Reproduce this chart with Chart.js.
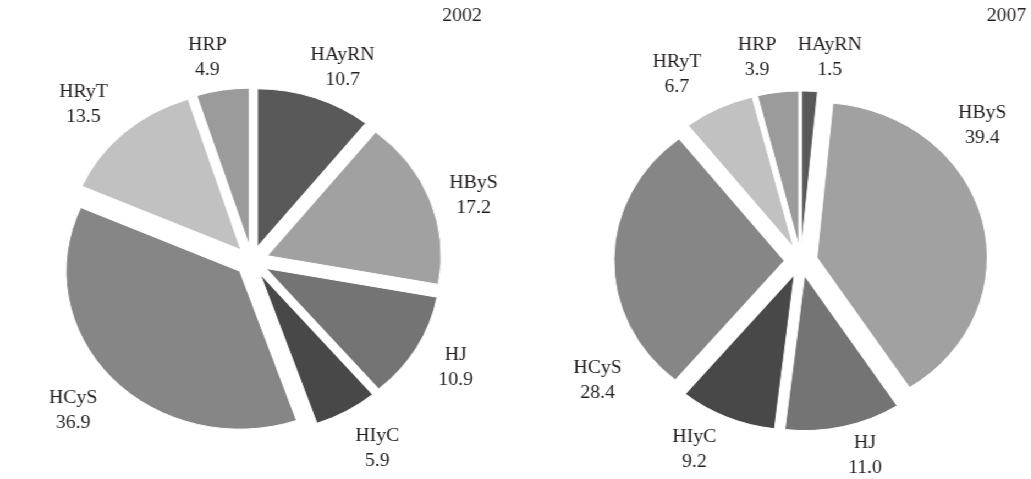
<!DOCTYPE html>
<html>
<head>
<meta charset="utf-8">
<script src="https://cdn.jsdelivr.net/npm/chart.js@4/dist/chart.umd.min.js"></script>
<style>
  html, body { margin: 0; padding: 0; background: #fff; overflow: hidden; }
  /* the source picture is stretched sideways, so the whole stage is too */
  #stage { position: relative; width: 937px; height: 479px; transform: scaleX(1.1); transform-origin: 0 0; }
  #stage canvas { position: absolute; top: 0; }
</style>
</head>
<body>
<div id="stage">
  <canvas id="pie2002" width="458" height="479" style="left:0px"></canvas>
  <canvas id="pie2007" width="460" height="479" style="left:498px"></canvas>
</div>
<script>
const categories = ['HAyRN', 'HByS', 'HJ', 'HIyC', 'HCyS', 'HRyT', 'HRP'];
const values2002 = [10.7, 17.2, 10.9, 5.9, 36.9, 13.5, 4.9];
const values2007 = [1.5, 39.4, 11.0, 9.2, 28.4, 6.7, 3.9];
const grays = ['#595959', '#a1a1a1', '#747474', '#484848', '#868686', '#c1c1c1', '#9b9b9b'];

// where each label sits: fraction along its slice, and gap past the rim
const anchor2002 = [0.6, 0.54, 0.5, 0.43, 0.5, 0.45, 0.36];
const gap2002 = [37, 39, 41, 47, 48, 46, 34];
const anchor2007 = [1.37, 0.32, 0.41, 0.62, 0.17, 0.29, 0.21];
const gap2007 = [35, 43, 33, 42, 50, 48, 37];

// v4 'offset' also grows small slices, so push every slice out evenly instead
const explode = {
  id: 'explode',
  beforeDatasetDraw(chart, args, opts) {
    args.meta.data.forEach(arc => {
      if (arc._exploded) return;
      const draw = arc.draw;
      arc.draw = function (ctx, area) {
        const mid = (this.startAngle + this.endAngle) / 2;
        ctx.save();
        ctx.translate(Math.cos(mid) * opts.distance, Math.sin(mid) * opts.distance);
        draw.call(this, ctx, area);
        ctx.restore();
      };
      arc._exploded = true;
    });
  }
};

const sliceLabels = {
  id: 'sliceLabels',
  afterDatasetsDraw(chart, args, opts) {
    const ctx = chart.ctx;
    const ds = chart.data.datasets[0];
    const meta = chart.getDatasetMeta(0);
    const pushed = chart.options.plugins.explode.distance;
    ctx.save();
    ctx.font = '18px "Liberation Serif", serif';
    ctx.fillStyle = '#231f20';
    ctx.textAlign = 'center';
    ctx.textBaseline = 'middle';
    meta.data.forEach((arc, i) => {
      const p = arc.getProps(['x', 'y', 'startAngle', 'endAngle', 'outerRadius'], true);
      const a = p.startAngle + (p.endAngle - p.startAngle) * opts.anchor[i];
      const r = p.outerRadius + pushed + opts.gap[i];
      const lx = p.x + Math.cos(a) * r;
      const ly = p.y + Math.sin(a) * r;
      ctx.fillText(chart.data.labels[i], lx, ly - 12.5);
      ctx.fillText(ds.data[i].toFixed(1), lx, ly + 12.5);
    });
    ctx.fillText(opts.year, opts.yearX, 16);
    ctx.restore();
  }
};

function makePie(id, values, radius, year, yearX, anchor, gap) {
  return new Chart(document.getElementById(id), {
    type: 'pie',
    data: {
      labels: categories,
      datasets: [{
        data: values,
        backgroundColor: grays,
        borderColor: '#ffffff',
        borderWidth: 1,
        radius: radius,
      }],
    },
    options: {
      responsive: false,
      animation: false,
      events: [],
      layout: { padding: { top: 43, bottom: 0, left: 0, right: 0 } },
      plugins: {
        legend: { display: false },
        tooltip: { enabled: false },
        explode: { distance: 15 },
        sliceLabels: { year: year, yearX: yearX, anchor: anchor, gap: gap },
      },
    },
    plugins: [explode, sliceLabels],
  });
}

makePie('pie2002', values2002, 158, '2002', 420, anchor2002, gap2002);
makePie('pie2007', values2007, 155, '2007', 417, anchor2007, gap2007);
</script>
</body>
</html>
